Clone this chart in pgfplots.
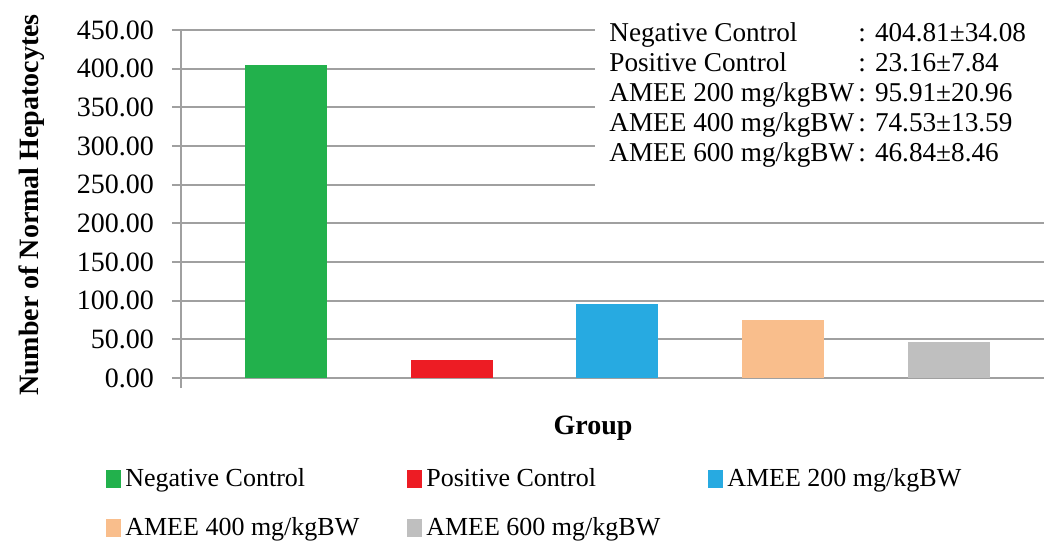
\documentclass[border=0pt]{standalone}
\usepackage{pgfplots}
\pgfplotsset{compat=1.18}
\usepackage{fontspec}
\setmainfont{Liberation Serif}
\definecolor{cgreen}{RGB}{34,177,76}
\definecolor{cred}{RGB}{237,28,36}
\definecolor{cblue}{RGB}{39,170,225}
\definecolor{corange}{RGB}{249,190,140}
\definecolor{cgray}{RGB}{191,191,191}
\definecolor{gridgray}{RGB}{160,160,160}
\begin{document}
\begin{tikzpicture}
\useasboundingbox (0,0) rectangle (522pt,270.5pt);
\begin{axis}[
  at={(90.5pt,76.5pt)}, anchor=south west,
  scale only axis, width=431.5pt, height=179pt,
  xmin=-0.63, xmax=4.57, ymin=-13, ymax=450,
  axis y line*=left, axis x line*=bottom,
  x axis line style={draw=none},
  xtick=\empty,
  ytick={0,50,...,450},
  ymajorgrids, grid style={gridgray, line width=0.9pt},
  y axis line style={gridgray, line width=1pt},
  major tick style={gridgray, line width=1pt},
  tick align=outside, major tick length=4.5pt,
  yticklabel style={font=\fontsize{14}{16}\selectfont, xshift=-5.5pt, /pgf/number format/.cd, fixed, fixed zerofill, precision=2, 1000 sep={}, assume math mode=true},
  ylabel={Number of Normal Hepatocytes},
  ylabel style={at={(axis description cs:-0.1726,0.511)}, anchor=center, rotate=0, font=\fontsize{14}{16}\selectfont\bfseries},
  xlabel={Group},
  xlabel style={at={(axis description cs:0.4774,-0.1118)}, anchor=center, font=\fontsize{14}{16}\selectfont\bfseries},
  ybar, bar width=41pt, bar shift=0pt,
  legend columns=3,
  legend style={at={(axis description cs:-0.0939,-0.2011)}, anchor=north west, draw=none, fill=none,
    font=\fontsize{13}{15}\selectfont, row sep=10pt,
    /tikz/every even column/.append style={column sep=22pt}},
  legend cell align=left,
  legend image code/.code={\fill[#1] (0pt,-4.5pt) rectangle (7.5pt,4.5pt);},
]
\addplot[draw=none, fill=cgreen] coordinates {(0,404.81)};
\addlegendentry{Negative Control}
\addplot[draw=none, fill=cred] coordinates {(1,23.16)};
\addlegendentry{Positive Control}
\addplot[draw=none, fill=cblue] coordinates {(2,95.91)};
\addlegendentry{AMEE 200 mg/kgBW}
\addplot[draw=none, fill=corange] coordinates {(3,74.53)};
\addlegendentry{AMEE 400 mg/kgBW}
\addplot[draw=none, fill=cgray] coordinates {(4,46.84)};
\addlegendentry{AMEE 600 mg/kgBW}
\end{axis}
\fill[white] (297.5pt,174.5pt) rectangle (522pt,267pt);
\node[anchor=north west, inner sep=0pt, font=\fontsize{13.6}{15}\selectfont] at (304.5pt,260.5pt) {%
\begin{tabular}{@{}p{124.5pt}@{}l@{}}
Negative Control & : 404.81±34.08\\
Positive Control & : 23.16±7.84\\
AMEE 200 mg/kgBW & : 95.91±20.96\\
AMEE 400 mg/kgBW & : 74.53±13.59\\
AMEE 600 mg/kgBW & : 46.84±8.46
\end{tabular}};
\end{tikzpicture}
\end{document}
